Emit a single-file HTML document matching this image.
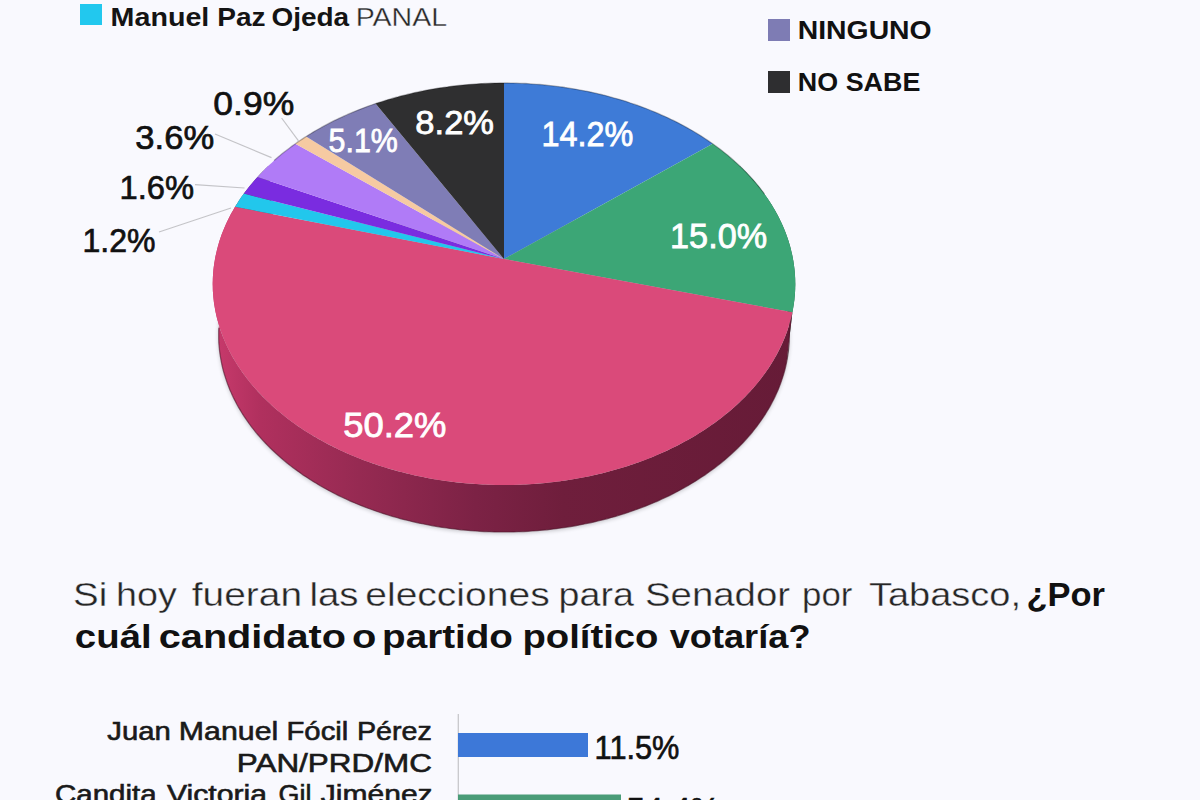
<!DOCTYPE html>
<html><head><meta charset="utf-8"><title>Encuesta Senador Tabasco</title>
<style>html,body{margin:0;padding:0;background:#f9f9fe;}svg{display:block;}</style></head>
<body>
<svg width="1200" height="800" viewBox="0 0 1200 800" font-family="Liberation Sans, Arial, sans-serif">
<rect width="1200" height="800" fill="#f9f9fe"/>
<g shape-rendering="geometricPrecision">
<defs><filter id="blur" x="-10%" y="-10%" width="120%" height="130%"><feGaussianBlur stdDeviation="2.2"/></filter></defs><path d="M734.8,220.8L737.6,223.4L740.2,226.1L742.8,228.8L745.3,231.5L747.8,234.2L750.2,237.0L752.5,239.8L754.8,242.7L757.0,245.6L759.2,248.5L761.3,251.4L763.3,254.4L765.3,257.4L767.1,260.4L769.0,263.5L770.7,266.6L772.4,269.7L774.0,272.8L775.5,276.0L776.9,279.1L778.3,282.3L779.6,285.6L780.8,288.8L782.0,292.1L783.0,295.4L784.0,298.7L784.9,302.0L785.7,305.4L786.5,308.7L787.1,312.1L787.7,315.5L788.2,318.9L788.6,322.3L788.9,325.7L789.1,329.2L789.3,332.6L789.3,336.1L789.3,339.5L789.2,343.0L789.0,346.5L788.7,350.0L788.3,353.5L787.8,357.0L787.2,360.4L786.6,363.9L785.8,367.4L785.0,370.9L784.0,374.4L783.0,377.9L781.9,381.3L780.7,384.8L779.3,388.3L777.9,391.7L776.4,395.1L774.8,398.6L773.2,402.0L771.4,405.4L769.5,408.8L767.5,412.1L765.5,415.5L763.3,418.8L761.1,422.1L758.7,425.4L756.3,428.6L753.7,431.8L751.1,435.0L748.4,438.2L745.6,441.3L742.7,444.5L739.7,447.5L736.7,450.6L733.5,453.6L730.3,456.6L726.9,459.5L723.5,462.4L720.0,465.3L716.4,468.1L712.7,470.8L709.0,473.6L705.2,476.2L701.2,478.9L697.3,481.5L693.2,484.0L689.0,486.5L684.8,488.9L680.5,491.3L676.2,493.6L671.7,495.9L667.2,498.1L662.7,500.3L658.0,502.4L653.3,504.4L648.6,506.4L643.7,508.3L638.9,510.1L633.9,511.9L628.9,513.6L623.9,515.3L618.8,516.9L613.7,518.4L608.5,519.8L603.2,521.2L598.0,522.5L592.6,523.8L587.3,524.9L581.9,526.0L576.5,527.0L571.0,528.0L565.5,528.9L560.0,529.7L554.5,530.4L548.9,531.0L543.4,531.6L537.8,532.1L532.2,532.5L526.5,532.9L520.9,533.2L515.3,533.3L509.6,533.5L504.0,533.5L498.4,533.5L492.7,533.3L487.1,533.2L481.5,532.9L475.8,532.5L470.2,532.1L464.6,531.6L459.1,531.0L453.5,530.4L448.0,529.7L442.5,528.9L437.0,528.0L431.5,527.0L426.1,526.0L420.7,524.9L415.4,523.8L410.0,522.5L404.8,521.2L399.5,519.8L394.3,518.4L389.2,516.9L384.1,515.3L379.1,513.6L374.1,511.9L369.1,510.1L364.3,508.3L359.4,506.4L354.7,504.4L350.0,502.4L345.3,500.3L340.8,498.1L336.3,495.9L331.8,493.6L327.5,491.3L323.2,488.9L319.0,486.5L314.8,484.0L310.7,481.5L306.8,478.9L302.8,476.2L299.0,473.6L295.3,470.8L291.6,468.1L288.0,465.3L284.5,462.4L281.1,459.5L277.7,456.6L274.5,453.6L271.3,450.6L268.3,447.5L265.3,444.5L262.4,441.3L259.6,438.2L256.9,435.0L254.3,431.8L251.7,428.6L249.3,425.4L246.9,422.1L244.7,418.8L242.5,415.5L240.5,412.1L238.5,408.8L236.6,405.4L234.8,402.0L233.2,398.6L231.6,395.1L230.1,391.7L228.7,388.3L227.3,384.8L226.1,381.3L225.0,377.9L224.0,374.4L223.0,370.9L222.2,367.4L221.4,363.9L220.8,360.4L220.2,357.0L219.7,353.5L219.3,350.0L219.0,346.5L218.8,343.0L218.7,339.5L218.7,336.1L218.7,332.6L218.9,329.2L219.1,325.7L219.4,322.3L219.8,318.9L220.3,315.5L220.9,312.1L221.5,308.7L222.3,305.4L223.1,302.0L224.0,298.7L225.0,295.4L226.0,292.1L227.2,288.8L228.4,285.6L229.7,282.3L231.1,279.1L232.5,276.0L234.0,272.8L235.6,269.7L237.3,266.6L239.0,263.5L240.9,260.4L242.7,257.4L244.7,254.4L246.7,251.4L248.8,248.5L251.0,245.6L253.2,242.7L255.5,239.8L257.8,237.0L260.2,234.2L262.7,231.5L265.2,228.8L267.8,226.1L270.4,223.4L273.2,220.8Z" fill="#000" opacity="0.22" filter="url(#blur)"/>
<defs><linearGradient id="sg" gradientUnits="userSpaceOnUse" x1="214" y1="0" x2="796" y2="0"><stop offset="0" stop-color="#c83a6c"/><stop offset="0.08" stop-color="#b0305e"/><stop offset="0.25" stop-color="#962a52"/><stop offset="0.45" stop-color="#7c2245"/><stop offset="0.6" stop-color="#6f1e3c"/><stop offset="1" stop-color="#661b37"/></linearGradient><linearGradient id="gg" gradientUnits="userSpaceOnUse" x1="214" y1="0" x2="796" y2="0"><stop offset="0" stop-color="#2a6a4c"/><stop offset="1" stop-color="#1f5a3e"/></linearGradient></defs>
<path d="M739.6,165.8L741.0,167.2L742.4,168.5L743.8,169.9L745.1,171.2L746.4,172.6L747.8,174.0L749.1,175.4L750.3,176.8L751.6,178.2L752.9,179.6L754.1,181.0L755.3,182.4L756.5,183.9L757.7,185.3L758.9,186.8L760.1,188.2L761.2,189.7L762.3,191.2L763.5,192.7L764.5,194.2L765.6,195.7L766.7,197.2L767.7,198.7L768.7,200.2L769.8,201.7L770.7,203.3L771.7,204.8L772.7,206.4L773.6,207.9L774.5,209.5L775.4,211.1L776.3,212.7L777.2,214.2L778.0,215.8L778.8,217.4L779.6,219.0L780.4,220.7L781.2,222.3L781.9,223.9L782.7,225.5L783.4,227.2L784.1,228.8L784.7,230.5L785.4,232.1L786.0,233.8L786.6,235.4L787.2,237.1L787.8,238.8L788.4,240.5L788.9,242.2L789.4,243.9L789.9,245.5L790.4,247.3L790.8,249.0L791.2,250.7L791.6,252.4L792.0,254.1L792.4,255.8L792.7,257.5L793.0,259.3L793.4,261.0L793.6,262.7L793.9,264.5L794.1,266.2L794.3,268.0L794.5,269.7L794.7,271.5L794.8,273.2L795.0,275.0L795.1,276.8L795.2,278.5L795.2,280.3L795.2,282.1L795.3,283.8L795.3,285.6L795.2,287.4L795.2,289.2L795.1,290.9L795.0,292.7L794.9,294.5L794.7,296.3L794.5,298.1L794.4,299.9L794.1,301.6L793.9,303.4L793.6,305.2L793.3,307.0L793.0,308.8L792.7,310.6L792.4,312.3L786.5,362.9L786.8,361.1L787.2,359.4L787.5,357.6L787.8,355.9L788.0,354.1L788.2,352.4L788.5,350.6L788.6,348.9L788.8,347.1L789.0,345.4L789.1,343.6L789.2,341.9L789.3,340.1L789.3,338.4L789.3,336.7L789.3,334.9L789.3,333.2L789.3,331.5L789.2,329.7L789.2,328.0L789.1,326.3L788.9,324.5L788.8,322.8L788.6,321.1L788.4,319.4L788.2,317.7L788.0,316.0L787.7,314.3L787.5,312.6L787.2,310.9L786.9,309.2L786.5,307.5L786.2,305.8L785.8,304.1L785.4,302.4L785.0,300.7L784.5,299.1L784.1,297.4L783.6,295.7L783.1,294.1L782.6,292.4L782.0,290.8L781.5,289.2L780.9,287.5L780.3,285.9L779.7,284.3L779.0,282.6L778.4,281.0L777.7,279.4L777.0,277.8L776.3,276.2L775.6,274.6L774.8,273.0L774.0,271.4L773.2,269.9L772.4,268.3L771.6,266.7L770.8,265.2L769.9,263.6L769.0,262.1L768.1,260.6L767.2,259.0L766.3,257.5L765.3,256.0L764.4,254.5L763.4,253.0L762.4,251.5L761.3,250.0L760.3,248.5L759.3,247.1L758.2,245.6L757.1,244.1L756.0,242.7L754.9,241.3L753.7,239.8L752.6,238.4L751.4,237.0L750.2,235.6L749.0,234.2L747.8,232.8L746.6,231.4L745.3,230.0L744.1,228.7L742.8,227.3L741.5,225.9L740.2,224.6L738.9,223.3L737.6,221.9L736.2,220.6L734.8,219.3Z" fill="url(#gg)"/>
<path d="M792.4,312.3L792.0,314.1L791.6,315.9L791.1,317.7L790.7,319.5L790.2,321.3L789.7,323.0L789.2,324.8L788.6,326.6L788.1,328.4L787.5,330.1L786.9,331.9L786.2,333.7L785.6,335.4L784.9,337.2L784.2,339.0L783.4,340.7L782.7,342.5L781.9,344.2L781.1,346.0L780.2,347.7L779.4,349.5L778.5,351.2L777.6,353.0L776.7,354.7L775.7,356.4L774.7,358.1L773.7,359.9L772.7,361.6L771.7,363.3L770.6,365.0L769.5,366.7L768.4,368.4L767.2,370.1L766.0,371.7L764.9,373.4L763.6,375.1L762.4,376.7L761.1,378.4L759.9,380.1L758.5,381.7L757.2,383.3L755.8,385.0L754.5,386.6L753.1,388.2L751.6,389.8L750.2,391.4L748.7,393.0L747.2,394.6L745.7,396.2L744.2,397.7L742.6,399.3L741.0,400.8L739.4,402.4L737.8,403.9L736.1,405.4L734.4,406.9L732.7,408.4L731.0,409.9L729.3,411.4L727.5,412.9L725.7,414.3L723.9,415.8L722.1,417.2L720.2,418.7L718.4,420.1L716.5,421.5L714.6,422.9L712.6,424.3L710.7,425.6L708.7,427.0L706.7,428.3L704.7,429.7L702.6,431.0L700.6,432.3L698.5,433.6L696.4,434.9L694.3,436.2L692.2,437.4L690.0,438.7L687.8,439.9L685.6,441.1L683.4,442.3L681.2,443.5L679.0,444.7L676.7,445.9L674.4,447.0L672.1,448.1L669.8,449.3L667.5,450.4L665.1,451.4L662.8,452.5L660.4,453.6L658.0,454.6L655.6,455.6L653.1,456.7L650.7,457.7L648.2,458.6L645.7,459.6L643.3,460.5L640.7,461.5L638.2,462.4L635.7,463.3L633.1,464.2L630.6,465.0L628.0,465.9L625.4,466.7L622.8,467.5L620.2,468.3L617.6,469.1L614.9,469.8L612.3,470.6L609.6,471.3L607.0,472.0L604.3,472.7L601.6,473.4L598.9,474.0L596.2,474.7L593.4,475.3L590.7,475.9L588.0,476.5L585.2,477.0L582.4,477.6L579.7,478.1L576.9,478.6L574.1,479.1L571.3,479.6L568.5,480.0L565.7,480.4L562.9,480.8L560.1,481.2L557.2,481.6L554.4,482.0L551.6,482.3L548.7,482.6L545.9,482.9L543.0,483.2L540.2,483.4L537.3,483.7L534.4,483.9L531.6,484.1L528.7,484.3L525.8,484.4L523.0,484.6L520.1,484.7L517.2,484.8L514.3,484.9L511.4,484.9L508.5,485.0L505.7,485.0L502.8,485.0L499.9,485.0L497.0,484.9L494.1,484.9L491.3,484.8L488.4,484.7L485.5,484.6L482.6,484.5L479.7,484.3L476.9,484.1L474.0,483.9L471.1,483.7L468.3,483.5L465.4,483.2L462.6,483.0L459.7,482.7L456.9,482.4L454.0,482.0L451.2,481.7L448.4,481.3L445.6,480.9L442.7,480.5L439.9,480.1L437.1,479.6L434.3,479.2L431.5,478.7L428.8,478.2L426.0,477.7L423.2,477.1L420.5,476.6L417.7,476.0L415.0,475.4L412.3,474.8L409.6,474.1L406.8,473.5L404.1,472.8L401.5,472.1L398.8,471.4L396.1,470.7L393.5,470.0L390.8,469.2L388.2,468.4L385.6,467.6L383.0,466.8L380.4,466.0L377.8,465.2L375.3,464.3L372.7,463.4L370.2,462.5L367.6,461.6L365.1,460.7L362.6,459.7L360.2,458.8L357.7,457.8L355.3,456.8L352.8,455.8L350.4,454.8L348.0,453.7L345.6,452.7L343.2,451.6L340.9,450.5L338.6,449.4L336.2,448.3L333.9,447.2L331.7,446.0L329.4,444.9L327.1,443.7L324.9,442.5L322.7,441.3L320.5,440.1L318.3,438.9L316.2,437.6L314.0,436.4L311.9,435.1L309.8,433.8L307.7,432.5L305.7,431.2L303.6,429.9L301.6,428.6L299.6,427.2L297.6,425.9L295.7,424.5L293.7,423.1L291.8,421.7L289.9,420.3L288.1,418.9L286.2,417.5L284.4,416.0L282.6,414.6L280.8,413.1L279.0,411.6L277.3,410.2L275.5,408.7L273.8,407.2L272.1,405.7L270.5,404.1L268.9,402.6L267.2,401.1L265.7,399.5L264.1,398.0L262.5,396.4L261.0,394.8L259.5,393.2L258.0,391.7L256.6,390.1L255.2,388.5L253.7,386.8L252.4,385.2L251.0,383.6L249.7,382.0L248.4,380.3L247.1,378.7L245.8,377.0L244.6,375.3L243.3,373.7L242.1,372.0L241.0,370.3L239.8,368.6L238.7,366.9L237.6,365.2L236.5,363.5L235.5,361.8L234.4,360.1L233.4,358.4L232.4,356.7L231.5,355.0L230.6,353.2L229.6,351.5L228.8,349.7L227.9,348.0L227.1,346.3L226.2,344.5L225.5,342.8L224.7,341.0L224.0,339.2L223.2,337.5L222.5,335.7L221.9,334.0L221.2,332.2L220.6,330.4L220.0,328.6L219.4,326.9L218.9,325.1L218.4,323.3L217.9,321.5L217.4,319.8L216.9,318.0L216.5,316.2L216.1,314.4L215.7,312.6L215.3,310.8L215.0,309.1L214.7,307.3L214.4,305.5L214.1,303.7L213.9,301.9L213.7,300.1L213.5,298.4L213.3,296.6L213.2,294.8L213.0,293.0L212.9,291.2L212.8,289.5L212.8,287.7L212.8,285.9L212.7,284.2L212.7,282.4L212.8,280.6L212.8,278.9L212.9,277.1L213.0,275.3L213.1,273.6L213.3,271.8L213.4,270.1L213.6,268.3L213.8,266.6L214.1,264.8L214.3,263.1L214.6,261.4L214.9,259.6L215.2,257.9L215.5,256.2L215.9,254.4L216.3,252.7L216.7,251.0L217.1,249.3L217.6,247.6L218.0,245.9L218.5,244.2L219.0,242.5L219.5,240.8L220.1,239.2L220.6,237.5L221.2,235.8L221.8,234.1L222.5,232.5L223.1,230.8L223.8,229.2L224.5,227.5L225.2,225.9L225.9,224.3L226.6,222.7L227.4,221.0L228.2,219.4L229.0,217.8L229.8,216.2L230.6,214.6L231.5,213.0L232.4,211.5L233.3,209.9L234.2,208.3L235.1,206.8L240.6,259.4L239.7,260.9L238.8,262.5L237.9,264.0L237.0,265.6L236.2,267.1L235.4,268.7L234.6,270.2L233.8,271.8L233.0,273.4L232.3,275.0L231.5,276.6L230.8,278.2L230.1,279.8L229.5,281.4L228.8,283.0L228.2,284.6L227.6,286.2L227.0,287.9L226.4,289.5L225.8,291.1L225.3,292.8L224.8,294.4L224.3,296.1L223.8,297.8L223.4,299.4L222.9,301.1L222.5,302.8L222.1,304.4L221.8,306.1L221.4,307.8L221.1,309.5L220.8,311.2L220.5,312.9L220.2,314.6L220.0,316.3L219.7,318.0L219.5,319.7L219.3,321.4L219.2,323.1L219.0,324.9L218.9,326.6L218.8,328.3L218.7,330.0L218.7,331.8L218.7,333.5L218.7,335.2L218.7,337.0L218.7,338.7L218.8,340.4L218.8,342.2L218.9,343.9L219.1,345.7L219.2,347.4L219.4,349.2L219.6,350.9L219.8,352.6L220.0,354.4L220.3,356.1L220.6,357.9L220.9,359.6L221.2,361.4L221.6,363.1L221.9,364.9L222.3,366.6L222.8,368.4L223.2,370.1L223.7,371.9L224.2,373.6L224.7,375.3L225.2,377.1L225.8,378.8L226.4,380.5L227.0,382.3L227.6,384.0L228.3,385.7L228.9,387.5L229.6,389.2L230.4,390.9L231.1,392.6L231.9,394.4L232.7,396.1L233.5,397.8L234.3,399.5L235.2,401.2L236.1,402.9L237.0,404.6L238.0,406.3L238.9,408.0L239.9,409.7L240.9,411.3L241.9,413.0L243.0,414.7L244.1,416.3L245.2,418.0L246.3,419.6L247.5,421.3L248.6,422.9L249.8,424.6L251.0,426.2L252.3,427.8L253.5,429.4L254.8,431.0L256.1,432.6L257.5,434.2L258.8,435.8L260.2,437.4L261.6,439.0L263.0,440.6L264.5,442.1L265.9,443.7L267.4,445.2L269.0,446.7L270.5,448.3L272.0,449.8L273.6,451.3L275.2,452.8L276.9,454.3L278.5,455.7L280.2,457.2L281.9,458.7L283.6,460.1L285.3,461.6L287.1,463.0L288.8,464.4L290.6,465.8L292.4,467.2L294.3,468.6L296.1,470.0L298.0,471.4L299.9,472.7L301.8,474.1L303.8,475.4L305.7,476.7L307.7,478.0L309.7,479.3L311.7,480.6L313.8,481.9L315.8,483.1L317.9,484.4L320.0,485.6L322.1,486.8L324.2,488.0L326.4,489.2L328.5,490.4L330.7,491.5L332.9,492.7L335.2,493.8L337.4,494.9L339.6,496.1L341.9,497.1L344.2,498.2L346.5,499.3L348.8,500.3L351.2,501.4L353.5,502.4L355.9,503.4L358.3,504.4L360.7,505.4L363.1,506.3L365.5,507.3L368.0,508.2L370.4,509.1L372.9,510.0L375.4,510.9L377.9,511.7L380.4,512.6L382.9,513.4L385.4,514.2L388.0,515.0L390.6,515.8L393.1,516.5L395.7,517.3L398.3,518.0L400.9,518.7L403.5,519.4L406.2,520.1L408.8,520.7L411.5,521.4L414.1,522.0L416.8,522.6L419.5,523.2L422.2,523.7L424.9,524.3L427.6,524.8L430.3,525.3L433.0,525.8L435.7,526.3L438.5,526.7L441.2,527.2L444.0,527.6L446.7,528.0L449.5,528.4L452.3,528.7L455.0,529.1L457.8,529.4L460.6,529.7L463.4,530.0L466.2,530.3L469.0,530.5L471.8,530.7L474.6,531.0L477.4,531.1L480.2,531.3L483.1,531.5L485.9,531.6L488.7,531.7L491.5,531.8L494.3,531.9L497.2,531.9L500.0,532.0L502.8,532.0L505.6,532.0L508.5,532.0L511.3,531.9L514.1,531.9L516.9,531.8L519.7,531.7L522.6,531.6L525.4,531.4L528.2,531.3L531.0,531.1L533.8,530.9L536.6,530.7L539.4,530.5L542.2,530.2L545.0,530.0L547.8,529.7L550.6,529.4L553.4,529.0L556.2,528.7L558.9,528.3L561.7,527.9L564.4,527.5L567.2,527.1L569.9,526.7L572.7,526.2L575.4,525.7L578.1,525.2L580.8,524.7L583.6,524.2L586.2,523.6L588.9,523.1L591.6,522.5L594.3,521.9L596.9,521.3L599.6,520.6L602.2,520.0L604.9,519.3L607.5,518.6L610.1,517.9L612.7,517.2L615.3,516.4L617.8,515.6L620.4,514.9L623.0,514.1L625.5,513.3L628.0,512.4L630.5,511.6L633.0,510.7L635.5,509.8L638.0,508.9L640.4,508.0L642.9,507.1L645.3,506.2L647.7,505.2L650.1,504.2L652.5,503.2L654.8,502.2L657.2,501.2L659.5,500.2L661.9,499.1L664.2,498.1L666.4,497.0L668.7,495.9L671.0,494.8L673.2,493.7L675.4,492.5L677.6,491.4L679.8,490.2L682.0,489.0L684.1,487.8L686.2,486.6L688.3,485.4L690.4,484.2L692.5,482.9L694.6,481.7L696.6,480.4L698.6,479.1L700.6,477.8L702.6,476.5L704.5,475.2L706.5,473.8L708.4,472.5L710.3,471.1L712.2,469.8L714.0,468.4L715.8,467.0L717.7,465.6L719.4,464.2L721.2,462.8L723.0,461.3L724.7,459.9L726.4,458.5L728.1,457.0L729.8,455.5L731.4,454.0L733.0,452.5L734.6,451.0L736.2,449.5L737.7,448.0L739.3,446.5L740.8,445.0L742.3,443.4L743.7,441.9L745.2,440.3L746.6,438.7L748.0,437.2L749.4,435.6L750.7,434.0L752.1,432.4L753.4,430.8L754.7,429.2L755.9,427.6L757.2,425.9L758.4,424.3L759.6,422.7L760.7,421.0L761.9,419.4L763.0,417.7L764.1,416.1L765.2,414.4L766.2,412.7L767.2,411.1L768.3,409.4L769.2,407.7L770.2,406.0L771.1,404.3L772.0,402.6L772.9,400.9L773.8,399.2L774.6,397.5L775.4,395.8L776.2,394.1L777.0,392.4L777.7,390.7L778.5,388.9L779.2,387.2L779.8,385.5L780.5,383.7L781.1,382.0L781.7,380.3L782.3,378.5L782.9,376.8L783.4,375.1L783.9,373.3L784.4,371.6L784.9,369.8L785.3,368.1L785.7,366.3L786.1,364.6L786.5,362.9Z" fill="url(#sg)"/>
<path d="M235.1,206.8L236.1,205.1L237.2,203.4L238.2,201.8L239.3,200.1L240.4,198.5L241.5,196.8L242.7,195.2L243.9,193.6L249.1,246.5L248.0,248.1L246.9,249.7L245.8,251.3L244.7,252.9L243.6,254.5L242.6,256.1L241.6,257.8L240.6,259.4Z" fill="#555"/>
<path d="M243.9,193.6L245.0,192.0L246.2,190.5L247.4,189.0L248.6,187.4L249.8,185.9L251.0,184.4L252.3,182.9L253.5,181.4L254.8,179.9L256.1,178.4L257.5,177.0L262.5,230.2L261.2,231.7L259.9,233.1L258.6,234.6L257.4,236.0L256.2,237.5L254.9,239.0L253.7,240.5L252.6,242.0L251.4,243.5L250.3,245.0L249.1,246.5Z" fill="#555"/>
<path d="M257.5,177.0L258.8,175.5L260.1,174.1L261.4,172.7L262.8,171.3L264.2,169.9L265.6,168.6L267.0,167.2L268.4,165.8L273.2,219.3L271.8,220.7L270.4,222.0L269.0,223.3L267.7,224.7L266.4,226.1L265.1,227.4L263.8,228.8L262.5,230.2Z" fill="#555"/>
<path d="M789.1,327.7L789.3,330.6L789.3,333.5L789.3,336.5L789.3,339.4L789.2,342.4L789.0,345.3L788.7,348.3L788.4,351.3L788.0,354.2L787.5,357.2L787.0,360.2L786.4,363.1L785.8,366.1L785.1,369.1L784.3,372.0L783.4,375.0L782.5,377.9L781.5,380.9L780.5,383.8L779.3,386.8L778.2,389.7L776.9,392.6L775.6,395.5L774.2,398.4L772.7,401.3L771.2,404.2L769.6,407.1L767.9,409.9L766.2,412.8L764.4,415.6L762.5,418.4L760.6,421.2L758.6,424.0L756.5,426.8L754.4,429.5L752.2,432.3L749.9,435.0L747.6,437.6L745.2,440.3L742.7,443.0L740.2,445.6L737.6,448.2L734.9,450.7L732.2,453.3L729.4,455.8L726.6,458.3L723.7,460.8L720.7,463.2L717.7,465.6L714.6,468.0L711.4,470.3L708.2,472.6L705.0,474.9L701.6,477.1L698.3,479.3L694.8,481.5L691.3,483.6L687.8,485.7L684.2,487.8L680.5,489.8L676.8,491.8L673.1,493.7L669.3,495.6L665.4,497.5L661.5,499.3L657.6,501.1L653.6,502.8L649.5,504.5L645.4,506.1L641.3,507.7L637.1,509.3L632.9,510.8L628.7,512.2L624.4,513.6L620.1,515.0L615.7,516.3L611.3,517.5L606.9,518.8L602.4,519.9L598.0,521.0L593.4,522.1L588.9,523.1L584.3,524.0L579.7,524.9L575.1,525.8L570.5,526.6L565.8,527.3L561.1,528.0L556.4,528.6L551.7,529.2L547.0,529.8L542.2,530.2L537.5,530.6L532.7,531.0L528.0,531.3L523.2,531.6L518.4,531.7L513.6,531.9L508.8,532.0L504.0,532.0L499.2,532.0L494.4,531.9L489.6,531.7L484.8,531.6L480.0,531.3L475.3,531.0L470.5,530.6L465.8,530.2L461.0,529.8L456.3,529.2L451.6,528.6L446.9,528.0L442.2,527.3L437.5,526.6L432.9,525.8L428.3,524.9L423.7,524.0L419.1,523.1L414.6,522.1L410.0,521.0L405.6,519.9L401.1,518.8L396.7,517.5L392.3,516.3L387.9,515.0L383.6,513.6L379.3,512.2L375.1,510.8L370.9,509.3L366.7,507.7L362.6,506.1L358.5,504.5L354.4,502.8L350.4,501.1L346.5,499.3L342.6,497.5L338.7,495.6L334.9,493.7L331.2,491.8L327.5,489.8L323.8,487.8L320.2,485.7L316.7,483.6L313.2,481.5L309.7,479.3L306.4,477.1L303.0,474.9L299.8,472.6L296.6,470.3L293.4,468.0L290.3,465.6L287.3,463.2L284.3,460.8L281.4,458.3L278.6,455.8L275.8,453.3L273.1,450.7L270.4,448.2L267.8,445.6L265.3,443.0L262.8,440.3L260.4,437.6L258.1,435.0L255.8,432.3L253.6,429.5L251.5,426.8L249.4,424.0L247.4,421.2L245.5,418.4L243.6,415.6L241.8,412.8L240.1,409.9L238.4,407.1L236.8,404.2L235.3,401.3L233.8,398.4L232.4,395.5L231.1,392.6L229.8,389.7L228.7,386.8L227.5,383.8L226.5,380.9L225.5,377.9L224.6,375.0L223.7,372.0L222.9,369.1L222.2,366.1L221.6,363.1L221.0,360.2L220.5,357.2L220.0,354.2L219.6,351.3L219.3,348.3L219.0,345.3L218.8,342.4L218.7,339.4L218.7,336.5L218.7,333.5L218.7,330.6L218.9,327.7" fill="none" stroke="#4e1429" stroke-width="1.2" opacity="0.6"/>
<path d="M504.0,259.0L504.0,83.0L508.5,83.0L513.0,83.1L517.5,83.2L522.0,83.4L526.5,83.6L530.9,83.9L535.4,84.2L539.9,84.5L544.4,84.9L548.8,85.4L553.3,85.9L557.7,86.4L562.1,87.0L566.5,87.7L570.9,88.4L575.3,89.1L579.7,89.9L584.0,90.7L588.4,91.6L592.7,92.5L597.0,93.5L601.3,94.5L605.6,95.6L609.8,96.7L614.0,97.9L618.2,99.1L622.4,100.3L626.5,101.6L630.6,103.0L634.7,104.4L638.8,105.8L642.8,107.3L646.8,108.8L650.8,110.4L654.8,112.0L658.7,113.7L662.5,115.4L666.4,117.1L670.2,118.9L674.0,120.8L677.7,122.6L681.4,124.6L685.0,126.5L688.6,128.5L692.2,130.6L695.7,132.7L699.2,134.8L702.7,137.0L706.0,139.2L709.4,141.5L712.7,143.8Z" fill="#3e7bd7"/>
<path d="M504.0,259.0L712.7,143.8L716.0,146.2L719.2,148.6L722.4,151.0L725.6,153.5L728.7,156.1L731.7,158.7L734.7,161.3L737.6,163.9L740.4,166.6L743.2,169.3L746.0,172.1L748.6,174.9L751.2,177.8L753.8,180.6L756.3,183.5L758.7,186.5L761.0,189.5L763.3,192.5L765.5,195.5L767.7,198.6L769.7,201.7L771.7,204.8L773.6,208.0L775.5,211.2L777.2,214.4L778.9,217.6L780.5,220.9L782.1,224.2L783.5,227.5L784.9,230.9L786.2,234.3L787.4,237.7L788.5,241.1L789.6,244.5L790.5,248.0L791.4,251.4L792.2,254.9L792.9,258.4L793.5,262.0L794.0,265.5L794.5,269.1L794.8,272.6L795.0,276.2L795.2,279.8L795.3,283.4L795.2,287.0L795.1,290.6L794.9,294.2L794.6,297.8L794.2,301.5L793.7,305.1L793.1,308.7L792.4,312.3Z" fill="#3ca676"/>
<path d="M504.0,259.0L792.4,312.3L791.6,315.9L790.7,319.5L789.7,323.1L788.6,326.6L787.5,330.2L786.2,333.7L784.8,337.3L783.4,340.8L781.8,344.3L780.2,347.8L778.4,351.3L776.6,354.8L774.7,358.3L772.6,361.7L770.5,365.1L768.3,368.5L765.9,371.9L763.5,375.2L761.0,378.6L758.4,381.9L755.7,385.2L752.9,388.4L750.0,391.6L747.0,394.8L743.9,397.9L740.8,401.1L737.5,404.1L734.2,407.2L730.7,410.2L727.2,413.1L723.6,416.0L719.9,418.9L716.1,421.7L712.2,424.5L708.3,427.3L704.3,429.9L700.2,432.6L696.0,435.2L691.7,437.7L687.3,440.2L682.9,442.6L678.4,445.0L673.9,447.3L669.2,449.5L664.5,451.7L659.8,453.8L654.9,455.9L650.0,457.9L645.1,459.9L640.0,461.7L635.0,463.5L629.8,465.3L624.7,466.9L619.4,468.5L614.1,470.1L608.8,471.5L603.4,472.9L598.0,474.2L592.5,475.5L587.0,476.7L581.5,477.8L575.9,478.8L570.3,479.7L564.7,480.6L559.0,481.4L553.4,482.1L547.7,482.7L541.9,483.3L536.2,483.8L530.5,484.2L524.7,484.5L518.9,484.7L513.1,484.9L507.4,485.0L501.6,485.0L495.8,484.9L490.0,484.8L484.2,484.5L478.5,484.2L472.7,483.8L467.0,483.4L461.3,482.8L455.6,482.2L449.9,481.5L444.2,480.7L438.6,479.9L433.0,478.9L427.4,477.9L421.9,476.8L416.4,475.7L410.9,474.5L405.5,473.1L400.1,471.8L394.7,470.3L389.4,468.8L384.2,467.2L379.0,465.5L373.9,463.8L368.8,462.0L363.7,460.2L358.8,458.2L353.9,456.2L349.0,454.2L344.2,452.1L339.5,449.9L334.9,447.6L330.3,445.3L325.8,443.0L321.4,440.6L317.0,438.1L312.7,435.6L308.5,433.0L304.4,430.4L300.4,427.7L296.4,425.0L292.5,422.2L288.7,419.4L285.0,416.5L281.4,413.6L277.8,410.7L274.4,407.7L271.0,404.6L267.8,401.6L264.6,398.5L261.5,395.3L258.5,392.1L255.6,388.9L252.8,385.7L250.0,382.4L247.4,379.1L244.9,375.8L242.5,372.4L240.1,369.1L237.9,365.7L235.7,362.3L233.7,358.8L231.7,355.4L229.9,351.9L228.1,348.4L226.4,344.9L224.9,341.4L223.4,337.9L222.0,334.3L220.7,330.8L219.5,327.2L218.5,323.6L217.5,320.1L216.6,316.5L215.8,312.9L215.1,309.4L214.5,305.8L213.9,302.2L213.5,298.6L213.2,295.1L212.9,291.5L212.8,287.9L212.7,284.4L212.8,280.8L212.9,277.3L213.1,273.8L213.4,270.2L213.8,266.7L214.3,263.3L214.9,259.8L215.5,256.3L216.3,252.9L217.1,249.4L218.0,246.0L219.0,242.6L220.0,239.3L221.2,235.9L222.4,232.6L223.8,229.3L225.1,226.0L226.6,222.7L228.2,219.5L229.8,216.2L231.5,213.1L233.3,209.9L235.1,206.8Z" fill="#da4a7a"/>
<path d="M504.0,259.0L235.1,206.8L237.2,203.4L239.3,200.1L241.5,196.8L243.9,193.6Z" fill="#22c7ec"/>
<path d="M504.0,259.0L243.9,193.6L246.4,190.2L249.0,186.8L251.8,183.5L254.6,180.2L257.5,177.0Z" fill="#7a2ce0"/>
<path d="M504.0,259.0L257.5,177.0L260.3,174.0L263.1,171.0L266.0,168.1L269.0,165.2L272.1,162.4L275.2,159.6L278.4,156.8L281.7,154.1L285.0,151.5L288.4,148.9L291.8,146.3L295.3,143.8Z" fill="#b07bf7"/>
<path d="M504.0,259.0L295.3,143.8L298.0,141.9L300.7,140.1L303.4,138.3L306.1,136.5Z" fill="#f6caa2"/>
<path d="M504.0,259.0L306.1,136.5L309.7,134.3L313.2,132.1L316.8,130.0L320.4,127.9L324.1,125.9L327.9,123.9L331.6,122.0L335.4,120.1L339.3,118.2L343.2,116.4L347.1,114.7L351.1,112.9L355.1,111.3L359.1,109.6L363.1,108.1L367.2,106.5L371.4,105.1L375.5,103.6Z" fill="#7f7db6"/>
<path d="M504.0,259.0L375.5,103.6L379.7,102.2L383.9,100.9L388.1,99.6L392.4,98.4L396.6,97.2L400.9,96.0L405.3,94.9L409.6,93.9L414.0,92.8L418.3,91.9L422.7,91.0L427.2,90.1L431.6,89.3L436.0,88.5L440.5,87.8L445.0,87.2L449.5,86.6L454.0,86.0L458.5,85.5L463.0,85.0L467.6,84.6L472.1,84.2L476.6,83.9L481.2,83.6L485.7,83.4L490.3,83.2L494.9,83.1L499.4,83.0L504.0,83.0Z" fill="#2f2f30"/>
<path d="M274.1,160.6L275.9,159.0L277.8,157.3L279.7,155.7L281.7,154.1L283.6,152.6L285.6,151.0L287.6,149.4L289.6,147.9L291.7,146.4L293.8,144.9L295.8,143.4L297.9,141.9L300.1,140.5L302.2,139.1L304.4,137.6L306.6,136.2L308.8,134.8L311.0,133.5L313.2,132.1L315.5,130.8L317.7,129.5L320.0,128.2L322.3,126.9L324.6,125.6L327.0,124.4L329.3,123.2L331.7,121.9L334.1,120.7L336.5,119.6L338.9,118.4L341.3,117.3L343.8,116.1L346.3,115.0L348.7,113.9L351.2,112.9L353.7,111.8L356.2,110.8L358.8,109.8L361.3,108.8L363.9,107.8L366.4,106.8L369.0,105.9L371.6,105.0L374.2,104.1L376.8,103.2L379.4,102.3L382.1,101.5L384.7,100.6L387.4,99.8L390.0,99.0L392.7,98.2L395.4,97.5L398.1,96.8L400.8,96.0L403.5,95.3L406.3,94.7L409.0,94.0L411.7,93.4L414.5,92.7L417.2,92.1L420.0,91.5L422.8,91.0L425.5,90.4L428.3,89.9L431.1,89.4L433.9,88.9L436.7,88.4L439.5,88.0L442.3,87.6L445.1,87.1L448.0,86.8L450.8,86.4L453.6,86.0L456.5,85.7L459.3,85.4L462.1,85.1L465.0,84.8L467.8,84.6L470.7,84.3L473.5,84.1L476.4,83.9L479.3,83.7L482.1,83.6L485.0,83.4L487.9,83.3L490.7,83.2L493.6,83.1L496.5,83.1L499.3,83.0L502.2,83.0L505.1,83.0L507.9,83.0L510.8,83.1L513.7,83.1L516.6,83.2L519.4,83.3L522.3,83.4L525.2,83.5L528.0,83.7L530.9,83.9L533.7,84.1L536.6,84.3L539.5,84.5L542.3,84.7L545.2,85.0L548.0,85.3L550.8,85.6L553.7,85.9L556.5,86.3L559.3,86.7L562.2,87.0L565.0,87.5L567.8,87.9L570.6,88.3L573.4,88.8L576.2,89.3L579.0,89.8L581.8,90.3L584.6,90.8L587.3,91.4L590.1,92.0L592.8,92.6L595.6,93.2L598.3,93.8L601.1,94.5L603.8,95.2L606.5,95.9L609.2,96.6L611.9,97.3L614.6,98.1L617.3,98.8L620.0,99.6L622.6,100.4L625.3,101.2L627.9,102.1L630.5,103.0L633.1,103.8L635.8,104.7L638.3,105.7L640.9,106.6L643.5,107.6L646.1,108.5L648.6,109.5L651.1,110.5L653.7,111.6L656.2,112.6L658.7,113.7L661.1,114.8L663.6,115.9L666.0,117.0L668.5,118.1L670.9,119.3L673.3,120.4L675.7,121.6L678.1,122.8L680.4,124.1L682.8,125.3L685.1,126.6L687.4,127.9L689.7,129.2L692.0,130.5L694.2,131.8L696.5,133.1L698.7,134.5L700.9,135.9L703.1,137.3L705.3,138.7L707.4,140.1L709.5,141.6L711.6,143.0L713.7,144.5L715.8,146.0L717.8,147.5L719.9,149.1L721.9,150.6L723.9,152.2L725.8,153.7L727.8,155.3L729.7,156.9L731.6,158.6L733.5,160.2L735.3,161.9L737.1,163.5L739.0,165.2L740.7,166.9L742.5,168.6L744.2,170.4L745.9,172.1L747.6,173.9L749.3,175.6L750.9,177.4L752.5,179.2L754.1,181.0L755.7,182.8L757.2,184.7L758.7,186.5L760.2,188.4L761.7,190.3L763.1,192.2L764.5,194.1" fill="none" stroke="#000" stroke-width="1.3" opacity="0.28"/>
</g>
<line x1="281.6" y1="118" x2="298.5" y2="140.8" stroke="#c4c4c8" stroke-width="1.2"/><line x1="215" y1="134" x2="271.5" y2="157.6" stroke="#c4c4c8" stroke-width="1.2"/><line x1="195" y1="184.6" x2="244.5" y2="188" stroke="#c4c4c8" stroke-width="1.2"/><line x1="159" y1="232" x2="231" y2="208" stroke="#c4c4c8" stroke-width="1.2"/>
<rect x="80" y="4" width="22" height="21" fill="#22c8ee"/>
<rect x="768" y="19" width="22" height="22" fill="#7e7cb4"/>
<rect x="768" y="71" width="22" height="22" fill="#2e2e30"/>
<text x="110.61" y="25.8" font-size="26.2" font-weight="bold" fill="#141414" textLength="98.72" lengthAdjust="spacingAndGlyphs">Manuel</text>
<text x="217.26" y="25.8" font-size="26.2" font-weight="bold" fill="#141414" textLength="48.35" lengthAdjust="spacingAndGlyphs">Paz</text>
<text x="271.43" y="25.8" font-size="26.2" font-weight="bold" fill="#141414" textLength="77.73" lengthAdjust="spacingAndGlyphs">Ojeda</text>
<text x="355.65" y="25.8" font-size="26.2" font-weight="normal" fill="#262626" stroke="#f9f9fe" stroke-width="0.35" textLength="91.55" lengthAdjust="spacingAndGlyphs">PANAL</text>
<text x="797.76" y="39.2" font-size="25.3" font-weight="bold" fill="#111" textLength="133.89" lengthAdjust="spacingAndGlyphs">NINGUNO</text>
<text x="797.88" y="91.3" font-size="25.3" font-weight="bold" fill="#111" textLength="122.47" lengthAdjust="spacingAndGlyphs">NO SABE</text>
<text x="213.30" y="114.8" font-size="34" font-weight="normal" fill="#111" stroke="#111" stroke-width="0.7" textLength="80.91" lengthAdjust="spacingAndGlyphs">0.9%</text>
<text x="135.32" y="149.4" font-size="34" font-weight="normal" fill="#111" stroke="#111" stroke-width="0.7" textLength="78.85" lengthAdjust="spacingAndGlyphs">3.6%</text>
<text x="119.43" y="198.8" font-size="34" font-weight="normal" fill="#111" stroke="#111" stroke-width="0.7" textLength="74.64" lengthAdjust="spacingAndGlyphs">1.6%</text>
<text x="82.49" y="251.8" font-size="34" font-weight="normal" fill="#111" stroke="#111" stroke-width="0.7" textLength="73.04" lengthAdjust="spacingAndGlyphs">1.2%</text>
<text x="415.36" y="134.3" font-size="33.5" font-weight="normal" fill="#fff" stroke="#fff" stroke-width="0.8" textLength="78.63" lengthAdjust="spacingAndGlyphs">8.2%</text>
<text x="328.56" y="152.3" font-size="33.5" font-weight="normal" fill="#fff" stroke="#fff" stroke-width="0.8" textLength="69.24" lengthAdjust="spacingAndGlyphs">5.1%</text>
<text x="541.56" y="145.5" font-size="34.5" font-weight="normal" fill="#fff" stroke="#fff" stroke-width="0.8" textLength="91.79" lengthAdjust="spacingAndGlyphs">14.2%</text>
<text x="670.10" y="248.3" font-size="34.5" font-weight="normal" fill="#fff" stroke="#fff" stroke-width="0.8" textLength="97.00" lengthAdjust="spacingAndGlyphs">15.0%</text>
<text x="343.27" y="437.0" font-size="34.5" font-weight="normal" fill="#fff" stroke="#fff" stroke-width="0.8" textLength="103.19" lengthAdjust="spacingAndGlyphs">50.2%</text>
<text x="73.12" y="605.7" font-size="33" font-weight="normal" fill="#262626" stroke="#f9f9fe" stroke-width="0.35" textLength="34.21" lengthAdjust="spacingAndGlyphs">Si</text>
<text x="116.06" y="605.7" font-size="33" font-weight="normal" fill="#262626" stroke="#f9f9fe" stroke-width="0.35" textLength="60.79" lengthAdjust="spacingAndGlyphs">hoy</text>
<text x="191.82" y="605.7" font-size="33" font-weight="normal" fill="#262626" stroke="#f9f9fe" stroke-width="0.35" textLength="110.21" lengthAdjust="spacingAndGlyphs">fueran</text>
<text x="309.51" y="605.7" font-size="33" font-weight="normal" fill="#262626" stroke="#f9f9fe" stroke-width="0.35" textLength="49.06" lengthAdjust="spacingAndGlyphs">las</text>
<text x="365.25" y="605.7" font-size="33" font-weight="normal" fill="#262626" stroke="#f9f9fe" stroke-width="0.35" textLength="184.44" lengthAdjust="spacingAndGlyphs">elecciones</text>
<text x="558.56" y="605.7" font-size="33" font-weight="normal" fill="#262626" stroke="#f9f9fe" stroke-width="0.35" textLength="75.30" lengthAdjust="spacingAndGlyphs">para</text>
<text x="645.00" y="605.7" font-size="33" font-weight="normal" fill="#262626" stroke="#f9f9fe" stroke-width="0.35" textLength="145.07" lengthAdjust="spacingAndGlyphs">Senador</text>
<text x="802.13" y="605.7" font-size="33" font-weight="normal" fill="#262626" stroke="#f9f9fe" stroke-width="0.35" textLength="50.30" lengthAdjust="spacingAndGlyphs">por</text>
<text x="868.98" y="605.7" font-size="33" font-weight="normal" fill="#262626" stroke="#f9f9fe" stroke-width="0.35" textLength="152.06" lengthAdjust="spacingAndGlyphs">Tabasco,</text>
<text x="1026.41" y="605.7" font-size="33" font-weight="bold" fill="#111" textLength="78.57" lengthAdjust="spacingAndGlyphs">¿Por</text>
<text x="74.84" y="648" font-size="33" font-weight="bold" fill="#111" textLength="76.85" lengthAdjust="spacingAndGlyphs">cuál</text>
<text x="158.80" y="648" font-size="33" font-weight="bold" fill="#111" textLength="187.23" lengthAdjust="spacingAndGlyphs">candidato</text>
<text x="352.09" y="648" font-size="33" font-weight="bold" fill="#111" textLength="24.32" lengthAdjust="spacingAndGlyphs">o</text>
<text x="382.06" y="648" font-size="33" font-weight="bold" fill="#111" textLength="130.91" lengthAdjust="spacingAndGlyphs">partido</text>
<text x="522.48" y="648" font-size="33" font-weight="bold" fill="#111" textLength="135.96" lengthAdjust="spacingAndGlyphs">político</text>
<text x="669.70" y="648" font-size="33" font-weight="bold" fill="#111" textLength="140.81" lengthAdjust="spacingAndGlyphs">votaría?</text>
<text x="107.33" y="740" font-size="25.3" font-weight="normal" fill="#1a1a1a" stroke="#1a1a1a" stroke-width="0.6" textLength="63.51" lengthAdjust="spacingAndGlyphs">Juan</text>
<text x="178.89" y="740" font-size="25.3" font-weight="normal" fill="#1a1a1a" stroke="#1a1a1a" stroke-width="0.6" textLength="99.35" lengthAdjust="spacingAndGlyphs">Manuel</text>
<text x="286.46" y="740" font-size="25.3" font-weight="normal" fill="#1a1a1a" stroke="#1a1a1a" stroke-width="0.6" textLength="61.86" lengthAdjust="spacingAndGlyphs">Fócil</text>
<text x="357.01" y="740" font-size="25.3" font-weight="normal" fill="#1a1a1a" stroke="#1a1a1a" stroke-width="0.6" textLength="74.91" lengthAdjust="spacingAndGlyphs">Pérez</text>
<text x="236.81" y="771.7" font-size="25.3" font-weight="normal" fill="#1a1a1a" stroke="#1a1a1a" stroke-width="0.6" textLength="195.07" lengthAdjust="spacingAndGlyphs">PAN/PRD/MC</text>
<text x="54.93" y="803" font-size="25.3" font-weight="normal" fill="#1a1a1a" stroke="#1a1a1a" stroke-width="0.6" textLength="101.70" lengthAdjust="spacingAndGlyphs">Candita</text>
<text x="167.00" y="803" font-size="25.3" font-weight="normal" fill="#1a1a1a" stroke="#1a1a1a" stroke-width="0.6" textLength="100.09" lengthAdjust="spacingAndGlyphs">Victoria</text>
<text x="278.51" y="803" font-size="25.3" font-weight="normal" fill="#1a1a1a" stroke="#1a1a1a" stroke-width="0.6" textLength="32.91" lengthAdjust="spacingAndGlyphs">Gil</text>
<text x="320.81" y="803" font-size="25.3" font-weight="normal" fill="#1a1a1a" stroke="#1a1a1a" stroke-width="0.6" textLength="111.82" lengthAdjust="spacingAndGlyphs">Jiménez</text>
<text x="594.62" y="759.1" font-size="34" font-weight="normal" fill="#111" stroke="#111" stroke-width="0.7" textLength="84.81" lengthAdjust="spacingAndGlyphs">11.5%</text>
<text x="626.39" y="820.8" font-size="34" font-weight="normal" fill="#111" stroke="#111" stroke-width="0.7" textLength="93.60" lengthAdjust="spacingAndGlyphs">54.4%</text>
<line x1="458.3" y1="714" x2="458.3" y2="800" stroke="#c8c8cc" stroke-width="1.3"/>
<rect x="458" y="733" width="130" height="24" fill="#3d78d8"/>
<rect x="458" y="794.5" width="163" height="10" fill="#4a9c78"/>
</svg>
</body></html>
